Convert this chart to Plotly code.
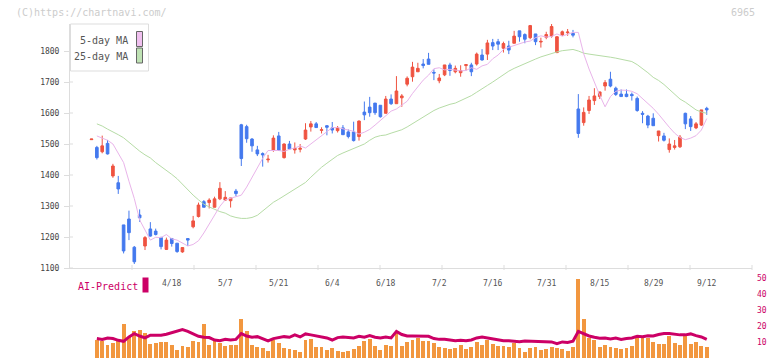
import plotly.graph_objects as go

# ---------------- data ----------------
idx = list(range(116))
opens = [1514,1489,1475,1502,1397,1375,1239,1258,1167,1271,
         1171,1226,1219,1198,1160,1195,1180,1152,1195,1233,
         1266,1314,1311,1296,1323,1319,1317,1348,1562,1556,
         1516,1481,1469,1449,1479,1526,1456,1500,1481,1483,
         1516,1555,1565,1544,1559,1552,1543,1552,1539,1539,
         1524,1603,1619,1632,1625,1599,1645,1630,1649,1693,
         1717,1733,1758,1774,1731,1704,1723,1755,1733,1730,
         1753,1755,1758,1787,1790,1827,1830,1809,1816,1825,
         1865,1853,1843,1855,1829,1844,1848,1795,1852,1859,
         1857,1613,1569,1608,1640,1653,1687,1709,1680,1661,
         1661,1660,1647,1599,1590,1583,1527,1526,1482,1489,
         1491,1599,1581,1552,1561,1615]
highs = [1516,1494,1527,1513,1436,1397,1239,1285,1171,1289,
         1203,1248,1227,1201,1198,1197,1180,1166,1195,1268,
         1311,1319,1325,1330,1377,1348,1326,1355,1565,1562,
         1519,1494,1473,1465,1528,1539,1502,1510,1505,1500,
         1567,1574,1571,1554,1561,1571,1558,1561,1547,1572,
         1576,1637,1652,1632,1625,1655,1660,1719,1661,1718,
         1765,1762,1774,1794,1741,1726,1755,1762,1753,1754,
         1758,1762,1795,1806,1836,1839,1839,1830,1833,1865,
         1865,1857,1884,1855,1843,1862,1887,1848,1866,1871,
         1868,1661,1618,1655,1680,1668,1706,1733,1685,1676,
         1676,1666,1653,1606,1594,1599,1542,1536,1518,1513,
         1529,1601,1590,1571,1610,1620]
lows = [1514,1450,1470,1466,1391,1339,1147,1190,1113,1249,
        1158,1201,1205,1160,1158,1169,1149,1149,1171,1228,
        1263,1296,1292,1296,1319,1317,1295,1332,1429,1504,
        1475,1461,1427,1440,1475,1479,1453,1484,1469,1473,
        1513,1540,1553,1534,1528,1534,1537,1530,1518,1508,
        1511,1577,1588,1594,1585,1599,1626,1630,1620,1686,
        1701,1733,1744,1757,1706,1696,1719,1720,1728,1717,
        1737,1719,1753,1769,1771,1803,1803,1795,1790,1825,
        1830,1825,1838,1819,1811,1838,1843,1793,1848,1849,
        1844,1520,1559,1597,1626,1645,1672,1683,1655,1653,
        1651,1640,1604,1567,1551,1559,1508,1508,1472,1482,
        1487,1548,1542,1548,1558,1594]
closes = [1516,1456,1494,1468,1429,1355,1155,1214,1120,1262,
          1198,1203,1208,1169,1190,1179,1153,1166,1190,1252,
          1303,1296,1319,1323,1357,1328,1326,1340,1453,1517,
          1494,1468,1465,1451,1519,1479,1500,1484,1486,1486,
          1545,1565,1553,1546,1554,1545,1552,1530,1524,1511,
          1574,1594,1601,1601,1588,1645,1630,1671,1655,1712,
          1748,1744,1753,1757,1729,1713,1755,1737,1744,1737,
          1756,1733,1790,1771,1826,1816,1822,1824,1803,1848,
          1846,1838,1882,1830,1831,1853,1879,1846,1862,1861,
          1851,1534,1602,1642,1655,1668,1698,1687,1660,1653,
          1653,1656,1608,1596,1561,1559,1542,1512,1500,1494,
          1522,1565,1556,1565,1610,1610]

ma_idx = list(range(1, 116))
ma5 = [1526,1520,1512,1500,1472,1440,1380,1324,1255,1221,
       1190,1199,1198,1208,1194,1190,1180,1171,1176,1188,
       1213,1241,1272,1299,1320,1325,1331,1335,1361,1393,
       1426,1454,1479,1479,1479,1476,1483,1487,1494,1487,
       1500,1513,1527,1539,1553,1553,1550,1545,1541,1532,
       1538,1547,1561,1576,1592,1606,1613,1627,1638,1663,
       1683,1706,1722,1743,1746,1739,1741,1738,1736,1737,
       1746,1741,1752,1757,1775,1787,1805,1812,1818,1823,
       1829,1832,1843,1849,1845,1847,1855,1848,1854,1860,
       1860,1791,1742,1698,1657,1620,1653,1670,1674,1673,
       1670,1662,1646,1633,1615,1596,1573,1554,1535,1521,
       1514,1519,1527,1545,1582]
ma25 = [1565,1558,1548,1540,1530,1520,1505,1490,1477,1465,
        1455,1440,1428,1416,1402,1388,1370,1352,1335,1320,
        1306,1297,1289,1282,1277,1268,1263,1260,1260,1263,
        1270,1285,1297,1312,1322,1333,1342,1353,1365,1376,
        1393,1410,1425,1438,1450,1463,1471,1478,1484,1492,
        1500,1512,1522,1527,1529,1535,1540,1546,1555,1566,
        1575,1587,1598,1608,1616,1623,1628,1632,1640,1648,
        1656,1667,1677,1689,1700,1712,1722,1735,1744,1752,
        1758,1766,1774,1781,1787,1792,1797,1801,1804,1805,
        1800,1793,1790,1788,1786,1783,1780,1777,1774,1771,
        1766,1756,1744,1730,1715,1705,1692,1676,1662,1645,
        1635,1622,1610,1603,1599]

volume = [11.0,10.8,7.9,9.1,11.6,21.0,13.1,16.6,17.3,15.4,
          8.5,9.1,9.8,9.8,8.3,4.8,7.3,6.7,10.4,9.8,
          21.0,7.9,10.4,9.6,7.3,7.9,7.9,24.2,16.6,7.9,
          6.7,6.0,4.2,11.0,9.1,6.0,5.4,4.8,3.5,11.0,
          11.6,6.7,6.7,4.8,6.0,4.2,3.5,4.2,5.4,7.3,
          10.4,11.6,7.3,4.8,7.9,7.3,16.6,7.3,9.8,11.0,
          12.3,10.4,10.4,9.1,6.7,6.0,5.4,6.0,7.9,5.4,
          6.7,9.8,7.9,11.0,8.5,7.3,7.3,6.7,9.1,6.0,
          3.5,6.0,6.7,4.8,5.4,6.7,6.0,5.4,4.2,6.7,
          49.2,24.2,12.3,11.0,6.7,7.9,6.7,6.0,5.4,6.0,
          7.3,12.9,12.3,12.3,9.8,8.5,8.5,13.5,9.1,7.9,
          13.5,8.5,9.8,7.3,6.7]
ai_predict = [12.1,11.6,12.5,12.1,11.0,10.4,13.1,15.2,13.7,12.5,
              14.2,14.2,14.2,14.8,15.8,17.1,17.7,16.6,14.8,13.5,
              12.9,12.7,11.2,10.8,11.6,11.2,11.6,15.2,13.7,12.9,
              13.3,12.1,10.6,12.1,12.7,13.3,12.9,14.4,13.1,15.0,
              14.4,13.9,13.3,12.5,11.2,12.7,13.1,12.9,12.5,13.5,
              12.9,13.9,12.9,12.5,13.1,12.5,16.6,14.6,13.7,13.7,
              13.7,13.7,13.5,12.1,11.6,11.6,11.2,10.8,11.0,10.8,
              11.2,12.5,13.1,12.5,11.6,11.0,10.8,10.8,10.4,10.2,
              10.6,10.4,10.4,10.4,10.2,10.0,8.9,10.0,9.6,10.4,
              16.6,15.2,13.7,12.9,12.3,12.5,11.9,12.5,11.6,12.1,
              12.5,13.5,13.3,13.9,13.7,14.6,15.2,15.2,14.6,14.4,
              14.4,15.0,13.9,13.1,11.6]

date_idx = [15, 25, 35, 45, 55, 65, 75, 85, 95, 105, 115]
date_labels = ["4/18", "5/7", "5/21", "6/4", "6/18", "7/2", "7/16", "7/31", "8/15", "8/29", "9/12"]
price_ticks = [1100, 1200, 1300, 1400, 1500, 1600, 1700, 1800]
vol_ticks = [0, 10, 20, 30, 40, 50]

# ---------------- styling ----------------
FONT = "DejaVu Sans Mono"
RED = "#ef5340"
BLUE = "#4479ee"
PINK = "#e9b4ea"
GREEN = "#b6dca6"
CRIMSON = "#cc0066"
ORANGE = "#f2973f"
AXIS = "#dddddd"

W, H = 772, 361
ML, MR, MT, MB = 70, 20, 24, 3
PW, PH = W - ML - MR, H - MT - MB


def px(xp):
    return (xp - ML) / PW


def py(yp):
    return (H - MB - yp) / PH


fig = go.Figure()

fig.add_trace(go.Scatter(x=ma_idx, y=ma25, mode="lines", line=dict(color=GREEN, width=1),
                         hoverinfo="skip", showlegend=False))
fig.add_trace(go.Scatter(x=ma_idx, y=ma5, mode="lines", line=dict(color=PINK, width=1),
                         hoverinfo="skip", showlegend=False))
fig.add_trace(go.Candlestick(
    x=idx, open=opens, high=highs, low=lows, close=closes,
    increasing=dict(line=dict(color=RED, width=1), fillcolor=RED),
    decreasing=dict(line=dict(color=BLUE, width=1), fillcolor=BLUE),
    whiskerwidth=0, showlegend=False, hoverinfo="skip"))

fig.add_trace(go.Bar(x=ma_idx, y=volume, marker=dict(color=ORANGE, line=dict(width=0)),
                     width=0.72, xaxis="x2", yaxis="y2", showlegend=False, hoverinfo="skip"))
fig.add_trace(go.Scatter(x=ma_idx, y=ai_predict, mode="lines", line=dict(color=CRIMSON, width=3),
                         xaxis="x2", yaxis="y2", showlegend=False, hoverinfo="skip"))

xr = [-4.02, 123.46]
main_bottom = py(268)

fig.update_layout(
    width=W, height=H,
    margin=dict(l=ML, r=MR, t=MT, b=MB, pad=0, autoexpand=False),
    paper_bgcolor="white", plot_bgcolor="rgba(0,0,0,0)",
    font=dict(family=FONT, size=10, color="#555555"),
    xaxis=dict(range=xr, domain=[0, 1], anchor="y", showgrid=False, zeroline=False,
               showline=True, linecolor=AXIS, linewidth=1, showticklabels=False, ticks="",
               rangeslider=dict(visible=False), fixedrange=True, automargin=False),
    yaxis=dict(range=[1100, 1100 + (268 - MT) / 0.31], domain=[main_bottom, 1], anchor="x",
               showgrid=False, zeroline=False, showline=True, linecolor=AXIS, linewidth=1,
               tickvals=price_ticks, ticks="outside", ticklen=5, tickcolor=AXIS,
               tickfont=dict(family=FONT, size=8, color="#444444"), ticklabelstandoff=3,
               automargin=False),
    xaxis2=dict(range=xr, domain=[0, 1], anchor="y2", showgrid=False, zeroline=False,
                showline=False, showticklabels=False, ticks="", automargin=False),
    yaxis2=dict(range=[0, 50], domain=[0, py(277.7)], anchor="x2", side="right",
                showgrid=False, zeroline=False, showline=False, tickvals=vol_ticks, ticks="",
                tickfont=dict(family=FONT, size=8, color=CRIMSON), ticklabelstandoff=4,
                automargin=False),
    bargap=0,
)

shapes = []
# x ticks crossing the axis line
for k in range(1, 12):
    shapes.append(dict(type="line", xref="paper", yref="paper", x0=k / 11, x1=k / 11,
                       y0=py(270), y1=py(265), line=dict(color=AXIS, width=1)))
# inner half of y ticks
for v in price_ticks:
    shapes.append(dict(type="line", xref="paper", yref="y", x0=0, x1=px(73), y0=v, y1=v,
                       line=dict(color=AXIS, width=1)))
# legend box
shapes.append(dict(type="rect", xref="paper", yref="paper", x0=px(70.5), x1=px(148.5),
                   y0=py(71), y1=py(24), line=dict(color=AXIS, width=1), fillcolor="white"))
shapes.append(dict(type="rect", xref="paper", yref="paper", x0=px(136.5), x1=px(142.5),
                   y0=py(46.5), y1=py(31.5), line=dict(color="#666666", width=1), fillcolor="#f0c0ef"))
shapes.append(dict(type="rect", xref="paper", yref="paper", x0=px(136.5), x1=px(142.5),
                   y0=py(63), y1=py(48), line=dict(color="#666666", width=1), fillcolor="#bfe2b4"))
# AI-Predict marker
shapes.append(dict(type="rect", xref="paper", yref="paper", x0=px(142.5), x1=px(148.5),
                   y0=py(292.5), y1=py(277.5), line=dict(width=0), fillcolor=CRIMSON))
fig.update_layout(shapes=shapes)

ann = []
for i, t in zip(date_idx, date_labels):
    ann.append(dict(x=i, y=py(283), xref="x", yref="paper", text=t, showarrow=False,
                    xanchor="center", yanchor="middle",
                    font=dict(family=FONT, size=8, color="#555555")))
ann.append(dict(x=px(129.5), y=py(40), xref="paper", yref="paper", text="5-day MA",
                showarrow=False, xanchor="right", yanchor="middle",
                font=dict(family=FONT, size=10, color="#555555")))
ann.append(dict(x=px(129.5), y=py(57), xref="paper", yref="paper", text="25-day MA",
                showarrow=False, xanchor="right", yanchor="middle",
                font=dict(family=FONT, size=10, color="#555555")))
ann.append(dict(x=px(76), y=py(286), xref="paper", yref="paper", text="AI-Predict",
                showarrow=False, xanchor="left", yanchor="middle",
                font=dict(family=FONT, size=10, color=CRIMSON)))
ann.append(dict(x=px(14), y=py(12.5), xref="paper", yref="paper", text="(C)https://chartnavi.com/",
                showarrow=False, xanchor="left", yanchor="middle",
                font=dict(family=FONT, size=10, color="#cccccc")))
ann.append(dict(x=px(757), y=py(12.5), xref="paper", yref="paper", text="6965",
                showarrow=False, xanchor="right", yanchor="middle",
                font=dict(family=FONT, size=10, color="#cccccc")))
fig.update_layout(annotations=ann)

fig.write_html("out.html", config={"staticPlot": True},
               post_script="document.body.style.margin='0';document.body.style.overflow='hidden';")
